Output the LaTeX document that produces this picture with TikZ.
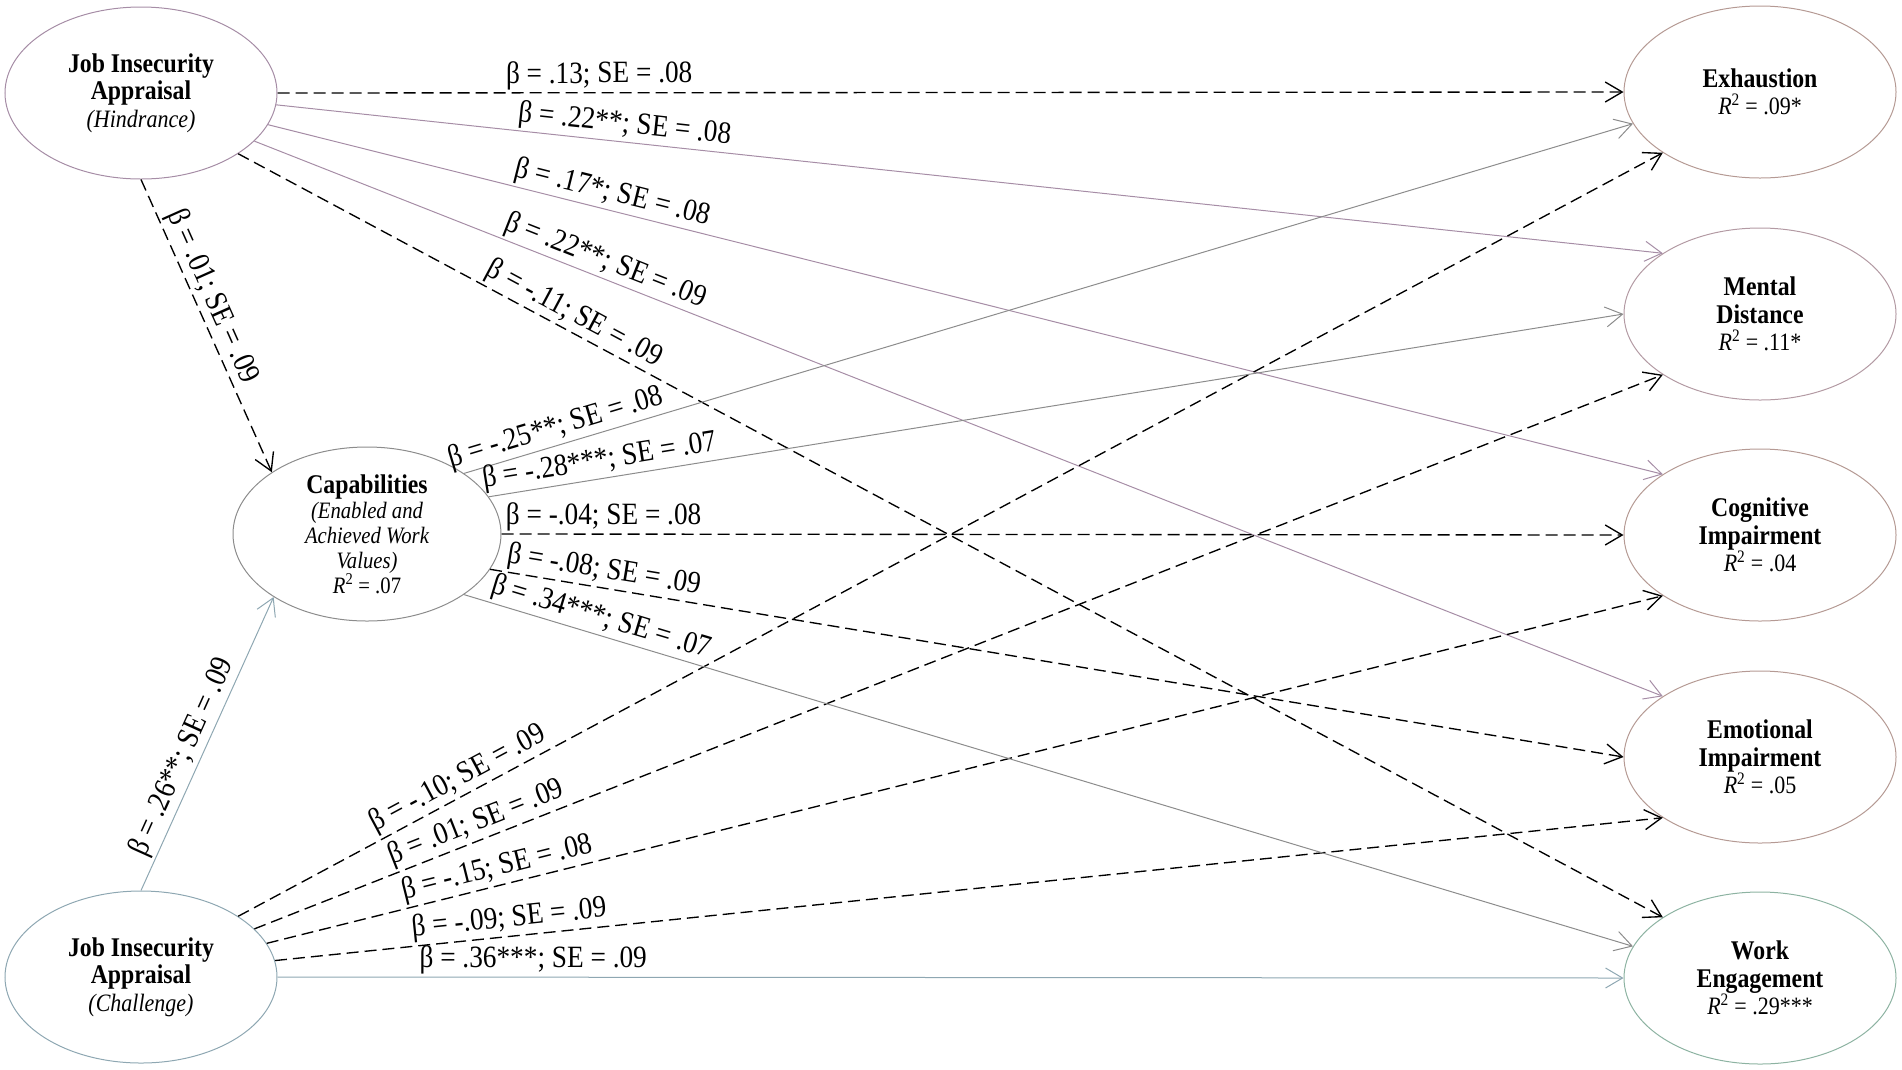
\documentclass[tikz,border=0pt]{standalone}
\usepackage{fontspec}
\setmainfont[FakeStretch=0.88]{Liberation Serif}
\usetikzlibrary{shapes.geometric,arrows.meta}
\definecolor{hcol}{HTML}{A68DA6}
\definecolor{ccol}{HTML}{8EA7B2}
\definecolor{kcol}{HTML}{8C8C8C}
\definecolor{rcol}{HTML}{B59A94}
\definecolor{mdcol}{HTML}{B39AA3}
\definecolor{wecol}{HTML}{8DB3A2}
\newcommand{\rsq}[1]{{\fontsize{25}{28}\selectfont\textit{R}\textsuperscript{2} = #1}}
\begin{document}
\begin{tikzpicture}[x=1pt,y=-1pt,
  ell/.style={ellipse, draw, line width=1pt, inner sep=0pt, align=center,
    minimum width=272pt, minimum height=172pt, font=\fontsize{27}{27.5}\selectfont},
  tip/.style={-{Straight Barb[length=17pt,width=20pt]}},
  dsh/.style={tip, draw=black, line width=1.35pt, dash pattern=on 12pt off 6pt},
  hln/.style={tip, draw=hcol, line width=1pt},
  cln/.style={tip, draw=ccol, line width=1pt},
  kln/.style={tip, draw=kcol, line width=1pt},
  lab/.style={font=\fontsize{31}{33}\selectfont, inner sep=2.5pt, sloped, above, text=black}
]
\useasboundingbox (0,0) rectangle (1902,1069);

% left nodes
\node[ell, draw=hcol] (H) at (141,93) {{\bfseries Job Insecurity}\\{\bfseries Appraisal}\\{\fontsize{25}{27.5}\selectfont\itshape (Hindrance)}};
\node[ell, draw=ccol] (C) at (141,977) {{\bfseries Job Insecurity}\\{\bfseries Appraisal}\\{\fontsize{25}{27.5}\selectfont\itshape (Challenge)}};
\node[ell, draw=kcol, minimum width=268pt, minimum height=174pt, font=\fontsize{23.5}{25}\selectfont] (K) at (367,534)
  {{\fontsize{27}{25}\selectfont\bfseries Capabilities}\\{\itshape (Enabled and}\\{\itshape Achieved Work}\\{\itshape Values)}\\{\textit{R}\textsuperscript{2} = .07}};

% right nodes
\node[ell, draw=rcol] (Ex) at (1760,92) {{\bfseries Exhaustion}\\\rsq{.09*}};
\node[ell, draw=mdcol] (MD) at (1760,314) {{\bfseries Mental}\\{\bfseries Distance}\\\rsq{.11*}};
\node[ell, draw=rcol] (CI) at (1760,535) {{\bfseries Cognitive}\\{\bfseries Impairment}\\\rsq{.04}};
\node[ell, draw=rcol] (EI) at (1760,757) {{\bfseries Emotional}\\{\bfseries Impairment}\\\rsq{.05}};
\node[ell, draw=wecol] (WE) at (1760,978) {{\bfseries Work}\\{\bfseries Engagement}\\\rsq{.29***}};

% from Hindrance
\draw[dsh] (H.east) -- node[lab, pos=.239] {β = .13; SE = .08} (Ex.west);
\draw[hln] (H.-5.7) -- node[lab, pos=.25] {β = .22**; SE = .08} (MD.148);
\draw[hln] (H.-14) -- node[lab, pos=.244] {β = .17*; SE = .08} (CI.148);
\draw[hln] (H.-23) -- node[lab, pos=.245] {β = .22**; SE = .09} (EI.148);
\draw[dsh] (H.-32) -- node[lab, pos=.23] {β = -.11; SE = .09} (WE.148);
\draw[dsh] (H.south) -- node[lab, pos=.425] {β = .01; SE = .09} (K.147);

% from Challenge
\draw[cln] (C.north) -- node[lab, pos=.43] {β = .26**; SE = .09} (K.214);
\draw[dsh] (C.32) -- node[lab, pos=.16] {β = -.10; SE = .09} (Ex.212);
\draw[dsh] (C.23) -- node[lab, pos=.162] {β = .01; SE = .09} (MD.212);
\draw[dsh] (C.15) -- node[lab, pos=.168] {β = -.15; SE = .08} (CI.212);
\draw[dsh] (C.7) -- node[lab, pos=.17] {β = -.09; SE = .09} (EI.212);
\draw[cln] (C.east) -- node[lab, pos=.19] {β = .36***; SE = .09} (WE.west);

% from Capabilities
\draw[kln] (K.32) -- node[lab, pos=.083] {β = -.25**; SE = .08} (Ex.194);
\draw[kln] (K.17) -- node[lab, pos=.10] {β = -.28***; SE = .07} (MD.west);
\draw[dsh] (K.east) -- node[lab, pos=.091] {β = -.04; SE = .08} (CI.west);
\draw[dsh] (K.-16) -- node[lab, pos=.098] {β = -.08; SE = .09} (EI.west);
\draw[kln] (K.-32) -- node[lab, pos=.113] {β = .34***; SE = .07} (WE.166);
\end{tikzpicture}
\end{document}
